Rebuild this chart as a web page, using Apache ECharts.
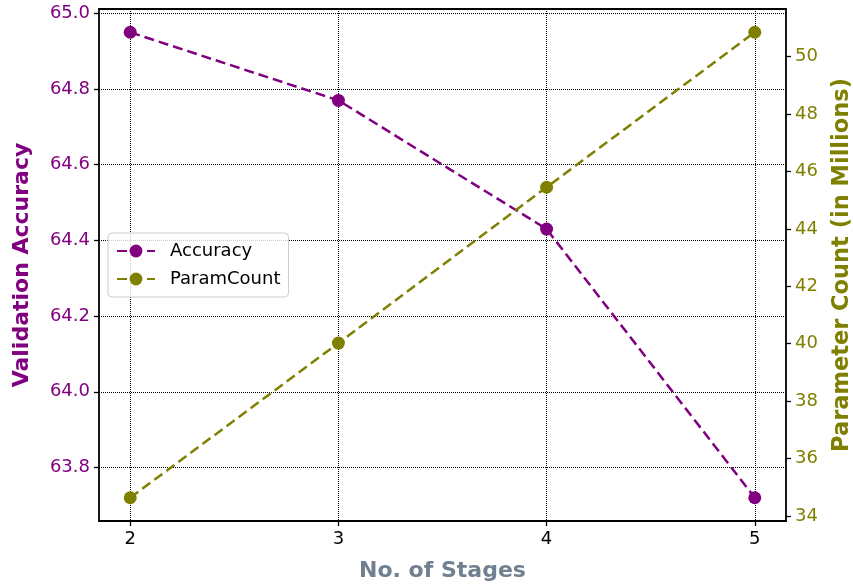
<!DOCTYPE html>
<html>
<head>
<meta charset="utf-8">
<script src="https://cdn.jsdelivr.net/npm/echarts@6/dist/echarts.min.js"></script>
<style>html,body{margin:0;padding:0;background:#fff;}#c{width:853px;height:586px;}</style>
</head>
<body>
<div id="c"></div>
<script>
var stages = [2, 3, 4, 5];
var accuracy = [64.95, 64.77, 64.43, 63.72];
var paramCount = [34.63, 40.02, 45.45, 50.85];
var xTicks = [2, 3, 4, 5];
var accTicks = [63.8, 64.0, 64.2, 64.4, 64.6, 64.8, 65.0];
var paramTicks = [34, 36, 38, 40, 42, 44, 46, 48, 50];

var PURPLE = '#800080', OLIVE = '#808000';
var FONT = 'DejaVu Sans';
var chart = echarts.init(document.getElementById('c'), null, {renderer: 'canvas'});
var grid = {type: 'dotted', color: '#000', width: 1, dashOffset: 0};
chart.setOption({
  animation: false,
  backgroundColor: '#fff',
  grid: {left: 99, right: 67, top: 9, bottom: 65, show: true, borderColor: '#000', borderWidth: 1.8, backgroundColor: 'transparent', containLabel: false, outerBoundsMode: 'none'},
  legend: {
    left: 108, top: 233, orient: 'vertical', itemGap: 10, itemWidth: 38, itemHeight: 16,
    backgroundColor: 'rgba(255,255,255,0.8)', borderColor: '#cccccc', borderWidth: 1, borderRadius: 4,
    padding: [9, 8, 9, 8],
    textStyle: {fontFamily: FONT, fontSize: 18, color: '#000', padding: [0, 0, 0, 10]},
    data: ['Accuracy', 'ParamCount']
  },
  xAxis: {
    type: 'value', min: 1.85, max: 5.15,
    name: 'No. of Stages', nameLocation: 'middle', nameGap: 39,
    nameTextStyle: {fontFamily: FONT, fontSize: 22, fontWeight: 'bold', color: '#708090'},
    axisLine: {show: false},
    axisTick: {show: true, length: 5, lineStyle: {color: '#000', width: 1.3}, customValues: xTicks},
    axisLabel: {fontFamily: FONT, fontSize: 18, color: '#000', margin: 9, customValues: xTicks, formatter: function(v){return String(v);}},
    splitLine: {show: true, lineStyle: grid}
  },
  yAxis: [{
    type: 'value', min: 63.6585, max: 65.0115, position: 'left',
    name: 'Validation Accuracy', nameLocation: 'middle', nameRotate: 90, nameGap: 66,
    nameTextStyle: {fontFamily: FONT, fontSize: 22, fontWeight: 'bold', color: PURPLE},
    axisLine: {show: false},
    axisTick: {show: true, length: 5, lineStyle: {color: '#000', width: 1.3}, customValues: accTicks},
    axisLabel: {fontFamily: FONT, fontSize: 18, color: PURPLE, margin: 9, customValues: accTicks, formatter: function(v){return v.toFixed(1);}},
    splitLine: {show: true, lineStyle: grid}
  }, {
    type: 'value', min: 33.82, max: 51.66, position: 'right',
    name: 'Parameter Count (in Millions)', nameLocation: 'middle', nameRotate: 90, nameGap: 45,
    nameTextStyle: {fontFamily: FONT, fontSize: 22.5, fontWeight: 'bold', color: OLIVE},
    axisLine: {show: false},
    axisTick: {show: true, length: 5, lineStyle: {color: '#000', width: 1.3}, customValues: paramTicks},
    axisLabel: {fontFamily: FONT, fontSize: 18, color: OLIVE, margin: 9, customValues: paramTicks, formatter: function(v){return String(v);}},
    splitLine: {show: false}
  }],
  series: [{
    name: 'Accuracy', type: 'line', yAxisIndex: 0,
    data: stages.map(function(s, i){return [s, accuracy[i]];}),
    symbol: 'circle', symbolSize: 13,
    lineStyle: {color: PURPLE, width: 2.5, type: [10, 5]},
    itemStyle: {color: PURPLE}
  }, {
    name: 'ParamCount', type: 'line', yAxisIndex: 1,
    data: stages.map(function(s, i){return [s, paramCount[i]];}),
    symbol: 'circle', symbolSize: 13,
    lineStyle: {color: OLIVE, width: 2.5, type: [10, 5]},
    itemStyle: {color: OLIVE}
  }]
});
</script>
</body>
</html>
